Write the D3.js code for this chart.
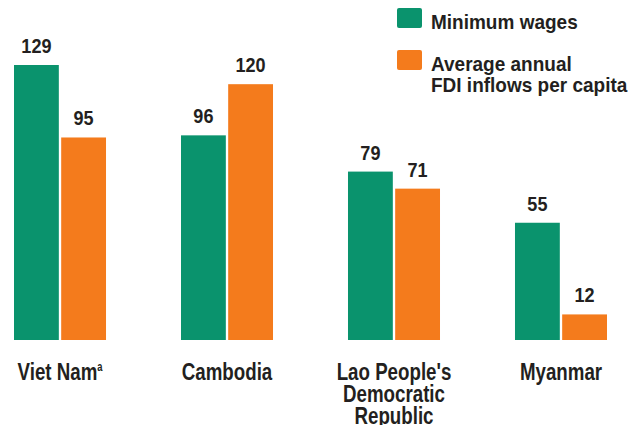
<!DOCTYPE html>
<html>
<head>
<meta charset="utf-8">
<script src="https://cdn.jsdelivr.net/npm/d3@7.9.0/dist/d3.min.js"></script>
<style>
  body { margin: 0; background: #fff; }
  text { font-family: "Liberation Sans", Arial, sans-serif; font-weight: bold; fill: #231f20; }
</style>
</head>
<body>
<svg id="chart" width="628" height="425"></svg>
<script>
const countries = ["Viet Nam", "Cambodia", "Lao People's Democratic Republic", "Myanmar"];
const countryLines = [["Viet Nam"], ["Cambodia"], ["Lao People's", "Democratic", "Republic"], ["Myanmar"]];
const countryNotes = ["a", "", "", ""];
const seriesNames = ["Minimum wages", "Average annual FDI inflows per capita"];
const legendLines = [["Minimum wages"], ["Average annual", "FDI inflows per capita"]];
const minWages = [129, 96, 79, 55];
const fdiPerCapita = [95, 120, 71, 12];
const colors = ["#0a936d", "#f47b1c"];

const svg = d3.select("#chart");
const baseY = 340;

const x0 = d3.scaleBand().domain(countries).range([14, 607]).paddingInner(0.449).paddingOuter(0);
const x1 = d3.scaleBand().domain(seriesNames).range([0, x0.bandwidth()]).paddingInner(0.05);
const y = d3.scaleLinear().domain([0, 129]).range([baseY, 65]);

const rows = countries.map((c, i) => ({ country: c, values: [minWages[i], fdiPerCapita[i]] }));

const groups = svg.append("g").selectAll("g")
  .data(rows)
  .join("g")
  .attr("transform", d => `translate(${x0(d.country)},0)`);

groups.selectAll("rect")
  .data(d => d.values.map((v, j) => ({ key: seriesNames[j], value: v, j })))
  .join("rect")
  .attr("x", d => x1(d.key))
  .attr("width", x1.bandwidth())
  .attr("y", d => y(d.value))
  .attr("height", d => y(0) - y(d.value))
  .attr("fill", d => colors[d.j]);

// value labels (condensed look via horizontal squeeze)
groups.selectAll("text.val")
  .data(d => d.values.map((v, j) => ({ key: seriesNames[j], value: v })))
  .join("text")
  .attr("class", "val")
  .attr("transform", d => `translate(${x1(d.key) + x1.bandwidth() / 2},${y(d.value) - 12}) scale(0.86,1)`)
  .attr("text-anchor", "middle")
  .style("font-size", "21px")
  .text(d => d.value);

// category labels
countries.forEach((c, i) => {
  const t = svg.append("text")
    .attr("transform", `translate(${x0(c) + x0.bandwidth() / 2},380) scale(0.78,1)`)
    .attr("text-anchor", "middle")
    .style("font-size", "24px");
  countryLines[i].forEach((line, k) => {
    t.append("tspan")
      .attr("x", 0)
      .attr("dy", k === 0 ? 0 : 22)
      .text(line);
  });
  if (countryNotes[i]) {
    t.append("tspan")
      .attr("dy", -9)
      .style("font-size", "12px")
      .text(countryNotes[i]);
  }
});

// legend
const legend = svg.append("g").attr("transform", "translate(397,8)");
legendLines.forEach((lines, i) => {
  const g = legend.append("g").attr("transform", `translate(0,${i * 42})`);
  g.append("rect").attr("width", 25).attr("height", 20).attr("rx", 2).attr("fill", colors[i]);
  const t = g.append("text")
    .attr("transform", "translate(34,21) scale(0.95,1)")
    .style("font-size", "20px");
  lines.forEach((line, k) => {
    t.append("tspan").attr("x", 0).attr("dy", k === 0 ? 0 : 21).text(line);
  });
});
</script>
</body>
</html>
